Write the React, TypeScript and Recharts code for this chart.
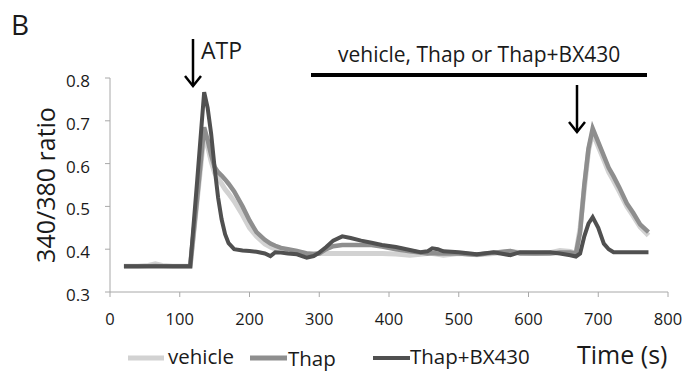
import { LineChart, Line, XAxis, YAxis } from "recharts"

// time points (s) shared by all three traces
const times = [
  20, 40, 55, 65, 75, 90, 115, 125, 135, 140, 145, 150, 155, 160, 165, 170, 178, 190, 200, 210,
  222, 230, 237, 245, 255, 268, 282, 292, 300, 310, 320, 333, 345, 360, 375, 390, 410, 430, 445, 455,
  462, 470, 478, 500, 526, 550, 574, 588, 610, 631, 645, 660, 668, 674, 680, 686, 692, 700, 708, 715,
  722, 730, 741, 750, 760, 772,
]

const vehicle = [
  0.36, 0.36, 0.362, 0.366, 0.362, 0.36, 0.36, 0.515, 0.67, 0.64, 0.605, 0.578, 0.565, 0.553, 0.54, 0.53, 0.512, 0.48, 0.45, 0.43,
  0.412, 0.405, 0.4, 0.4, 0.398, 0.393, 0.39, 0.39, 0.39, 0.39, 0.39, 0.39, 0.39, 0.39, 0.39, 0.39, 0.389, 0.386, 0.388, 0.39,
  0.39, 0.388, 0.386, 0.39, 0.387, 0.39, 0.395, 0.392, 0.39, 0.392, 0.397, 0.395, 0.39, 0.45, 0.54, 0.63, 0.672, 0.64, 0.608, 0.58,
  0.56, 0.535, 0.5, 0.478, 0.452, 0.432,
]

const thap = [
  0.36, 0.36, 0.36, 0.361, 0.36, 0.36, 0.36, 0.52, 0.685, 0.655, 0.62, 0.592, 0.58, 0.572, 0.563, 0.553, 0.535, 0.5, 0.467, 0.44,
  0.422, 0.413, 0.408, 0.403, 0.4, 0.396, 0.39, 0.388, 0.39, 0.4, 0.407, 0.41, 0.41, 0.41, 0.41, 0.406, 0.4, 0.395, 0.392, 0.39,
  0.391, 0.39, 0.39, 0.39, 0.387, 0.392, 0.396, 0.39, 0.39, 0.39, 0.392, 0.392, 0.39, 0.44, 0.55, 0.635, 0.682, 0.65, 0.618, 0.59,
  0.57, 0.545, 0.507, 0.485, 0.458, 0.44,
]

const thapBx = [
  0.36, 0.36, 0.36, 0.36, 0.36, 0.36, 0.36, 0.56, 0.767, 0.73, 0.67, 0.59, 0.52, 0.47, 0.435, 0.414, 0.4, 0.397, 0.396, 0.394,
  0.39, 0.384, 0.393, 0.392, 0.39, 0.388, 0.38, 0.384, 0.392, 0.405, 0.42, 0.43, 0.426, 0.42, 0.415, 0.41, 0.405, 0.398, 0.393, 0.395,
  0.402, 0.4, 0.395, 0.393, 0.388, 0.393, 0.386, 0.393, 0.393, 0.393, 0.39, 0.386, 0.383, 0.39, 0.43, 0.46, 0.475, 0.45, 0.413, 0.4,
  0.393, 0.393, 0.393, 0.393, 0.393, 0.393,
]

const xTicks = [0, 100, 200, 300, 400, 500, 600, 700, 800]
const yTicks = [0.3, 0.4, 0.5, 0.6, 0.7, 0.8]

const COLORS = {
  vehicle: "#d2d2d2",
  thap: "#8e8e8e",
  thapBx: "#505050",
  axis: "#a8a8a8",
  text: "#1a1a1a",
}

const FONT = "'Open Sans', sans-serif"

const XTick = ({ x, y, payload }: any) => (
  <text x={x} y={y + 12} textAnchor="middle" fontSize={16.5} fontFamily={FONT} fill={COLORS.text}>
    {payload.value}
  </text>
)

const YTick = ({ x, y, payload }: any) => (
  <text x={x} y={y + 9} textAnchor="end" fontSize={17} fontFamily={FONT} fill={COLORS.text}>
    {Number(payload.value).toFixed(1)}
  </text>
)

export default function App() {
  const data = times.map((t, i) => ({
    t,
    vehicle: vehicle[i],
    thap: thap[i],
    thapBx: thapBx[i],
  }))

  return (
    <div style={{ position: "fixed", left: 0, top: 0, width: 685, height: 374, background: "#fff" }}>
      <LineChart width={685} height={374} data={data} margin={{ top: 78, right: 17, bottom: 52, left: 0 }}>
        <XAxis
          dataKey="t"
          type="number"
          domain={[0, 800]}
          ticks={xTicks}
          height={30}
          stroke={COLORS.axis}
          tickSize={5}
          tickMargin={16}
          tick={<XTick />}
          interval={0}
        />
        <YAxis
          type="number"
          domain={[0.3, 0.8]}
          ticks={yTicks}
          width={110}
          stroke={COLORS.axis}
          tickSize={5}
          tickMargin={15}
          tick={<YTick />}
          interval={0}
        />
        <Line dataKey="vehicle" stroke={COLORS.vehicle} strokeWidth={5} dot={false} isAnimationActive={false} />
        <Line dataKey="thap" stroke={COLORS.thap} strokeWidth={4.5} dot={false} isAnimationActive={false} />
        <Line dataKey="thapBx" stroke={COLORS.thapBx} strokeWidth={4} dot={false} isAnimationActive={false} />
      </LineChart>

      <svg
        width={685}
        height={374}
        style={{ position: "absolute", left: 0, top: 0, pointerEvents: "none" }}
        fontFamily={FONT}
        fill={COLORS.text}
      >
        <text x={11} y={35} fontSize={28}>B</text>

        {/* ATP arrow */}
        <line x1={193} y1={39} x2={193} y2={86} stroke="#000" strokeWidth={2.5} />
        <polyline points="185,76 193,86 201,76" fill="none" stroke="#000" strokeWidth={2.5} />
        <text x={201} y={59} fontSize={23}>ATP</text>

        {/* treatment bar */}
        <text x={338} y={62} fontSize={21}>vehicle, Thap or Thap+BX430</text>
        <rect x={311} y={73} width={336} height={4} fill="#000" />
        <line x1={577} y1={85} x2={577} y2={132} stroke="#000" strokeWidth={2.5} />
        <polyline points="569,122 577,132 585,122" fill="none" stroke="#000" strokeWidth={2.5} />

        <text x={55} y={185} fontSize={25} textAnchor="middle" transform="rotate(-90, 55, 185)">
          340/380 ratio
        </text>

        {/* legend */}
        <line x1={128} y1={358} x2={164} y2={358} stroke={COLORS.vehicle} strokeWidth={5} />
        <text x={168} y={364} fontSize={20.5}>vehicle</text>
        <line x1={250} y1={358} x2={287} y2={358} stroke={COLORS.thap} strokeWidth={5} />
        <text x={288} y={366} fontSize={20.5}>Thap</text>
        <line x1={373} y1={358} x2={410} y2={358} stroke={COLORS.thapBx} strokeWidth={4} />
        <text x={410} y={364} fontSize={20.5}>Thap+BX430</text>

        <text x={577} y={364} fontSize={25}>Time (s)</text>
      </svg>
    </div>
  )
}
